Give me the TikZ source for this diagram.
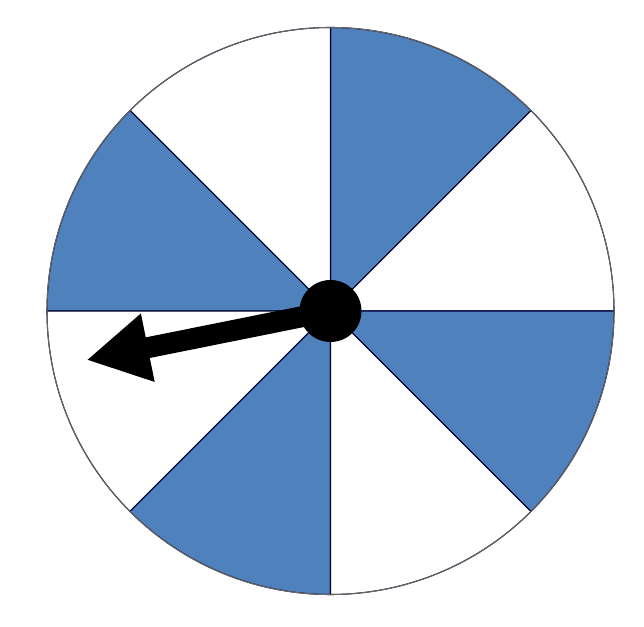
\documentclass[tikz,border=0pt]{standalone}
\usetikzlibrary{arrows.meta}

\definecolor{wheelblue}{HTML}{4F81BD}

\begin{document}
\begin{tikzpicture}[
    % Styles
    blue sector/.style={fill=wheelblue, draw=black!80!blue, line width=0.6pt},
    white sector/.style={fill=white, draw=black!80!blue, line width=0.6pt},
    rim/.style={draw=black!60, line width=0.6pt},
    hub node/.style={circle, fill=black, inner sep=0pt, minimum size=1.24cm},
    pointer/.style={-{Triangle[length=1.25cm, width=1.3cm]}, line width=0.42cm}
]

% Page size
\useasboundingbox (-6.61,-6.32) rectangle (6.27,6.22);

% Sectors, counter-clockwise from 0 degrees
\foreach \a/\kind in {0/white, 45/blue, 90/white, 135/blue, 180/white, 225/blue, 270/white, 315/blue}
    \path[\kind\space sector] (0,0) -- (\a:5.67) arc[start angle=\a, end angle=\a+45, radius=5.67] -- cycle;

% Outer rim
\draw[rim] (0,0) circle[radius=5.67];

% Pointer
\coordinate (tip) at (-4.88,-0.98);
\draw[pointer] (0,0) -- (tip);

% Hub
\node[hub node] (hub) at (0,0) {};

\end{tikzpicture}
\end{document}
